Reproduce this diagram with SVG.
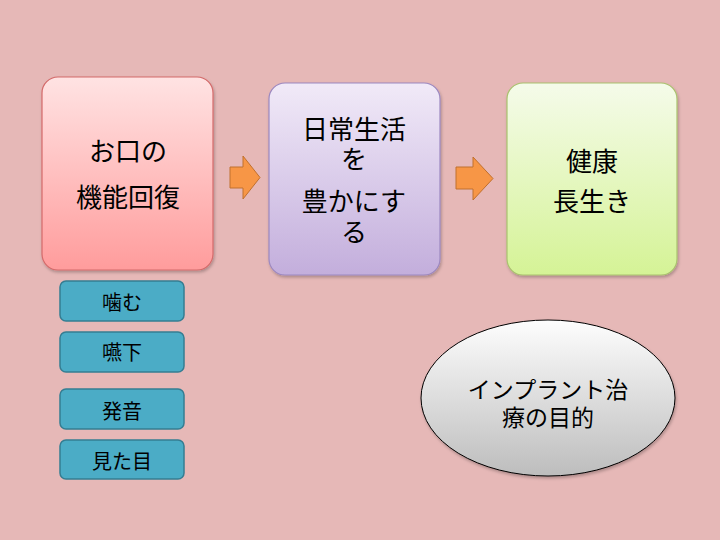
<svg xmlns="http://www.w3.org/2000/svg" width="720" height="540" viewBox="0 0 720 540">
<defs>
<linearGradient id="gPink" x1="0" y1="0" x2="0" y2="1"><stop offset="0" stop-color="#FFE3E3"/><stop offset="1" stop-color="#FF9C9C"/></linearGradient>
<linearGradient id="gPurple" x1="0" y1="0" x2="0" y2="1"><stop offset="0" stop-color="#F1EAF8"/><stop offset="1" stop-color="#C3AEDC"/></linearGradient>
<linearGradient id="gGreen" x1="0" y1="0" x2="0" y2="1"><stop offset="0" stop-color="#F5FBEA"/><stop offset="1" stop-color="#D5F396"/></linearGradient>
<linearGradient id="gGray" x1="0" y1="0" x2="0" y2="1"><stop offset="0" stop-color="#FDFDFD"/><stop offset="1" stop-color="#BDBDBD"/></linearGradient>
<filter id="sh" x="-10%" y="-10%" width="130%" height="130%"><feDropShadow dx="1" dy="2" stdDeviation="1.5" flood-color="#000" flood-opacity="0.25"/></filter>
</defs>
<style>
.t{font-family:"Noto Sans CJK JP","Noto Sans",sans-serif;fill:#000;text-anchor:middle}
.big{font-size:26px}
.sm{font-size:20px}
.el{font-size:23px}
.tag{fill:#4BACC6;stroke:#357D92;stroke-width:1.5}
.arr{fill:#F79646;stroke:#C0702E;stroke-width:1}
</style>
<rect width="720" height="540" fill="#E6B8B7"/>
<g id="connectors">
<path class="arr" d="M230,167 H243 V156 L260,177.5 L243,199 V188 H230 Z"/>
<path class="arr" d="M456,167 H473 V157 L493,178.5 L473,200 V189 H456 Z"/>
</g>
<g id="node-oral">
<rect x="42" y="77" width="171" height="193" rx="16" fill="url(#gPink)" stroke="#D46A6A" stroke-width="1.2" filter="url(#sh)"/>
<text class="t big" x="128" y="161">お口の</text>
<text class="t big" x="128" y="207">機能回復</text>
</g>
<g id="node-life">
<rect x="269" y="83" width="171" height="192" rx="16" fill="url(#gPurple)" stroke="#9C88C0" stroke-width="1.2" filter="url(#sh)"/>
<text class="t big" x="354" y="139">日常生活</text>
<text class="t big" x="354" y="169">を</text>
<text class="t big" x="354" y="211">豊かにす</text>
<text class="t big" x="354" y="242">る</text>
</g>
<g id="node-health">
<rect x="507" y="83" width="170" height="192" rx="16" fill="url(#gGreen)" stroke="#A9C26E" stroke-width="1.2" filter="url(#sh)"/>
<text class="t big" x="592" y="171">健康</text>
<text class="t big" x="592" y="211">長生き</text>
</g>
<g id="node-kamu">
<rect class="tag" x="60" y="281" width="124" height="40" rx="6"/>
<text class="t sm" x="122" y="310">噛む</text>
</g>
<g id="node-enge">
<rect class="tag" x="60" y="332" width="124" height="40" rx="6"/>
<text class="t sm" x="122" y="360">嚥下</text>
</g>
<g id="node-hatsuon">
<rect class="tag" x="60" y="389" width="124" height="40" rx="6"/>
<text class="t sm" x="122" y="419">発音</text>
</g>
<g id="node-mitame">
<rect class="tag" x="60" y="440" width="124" height="39" rx="6"/>
<text class="t sm" x="122" y="469">見た目</text>
</g>
<g id="node-purpose">
<ellipse cx="548" cy="398" rx="127" ry="78" fill="url(#gGray)" stroke="#000" stroke-width="1" filter="url(#sh)"/>
<text class="t el" x="548" y="398">インプラント治</text>
<text class="t el" x="548" y="426">療の目的</text>
</g>
</svg>
